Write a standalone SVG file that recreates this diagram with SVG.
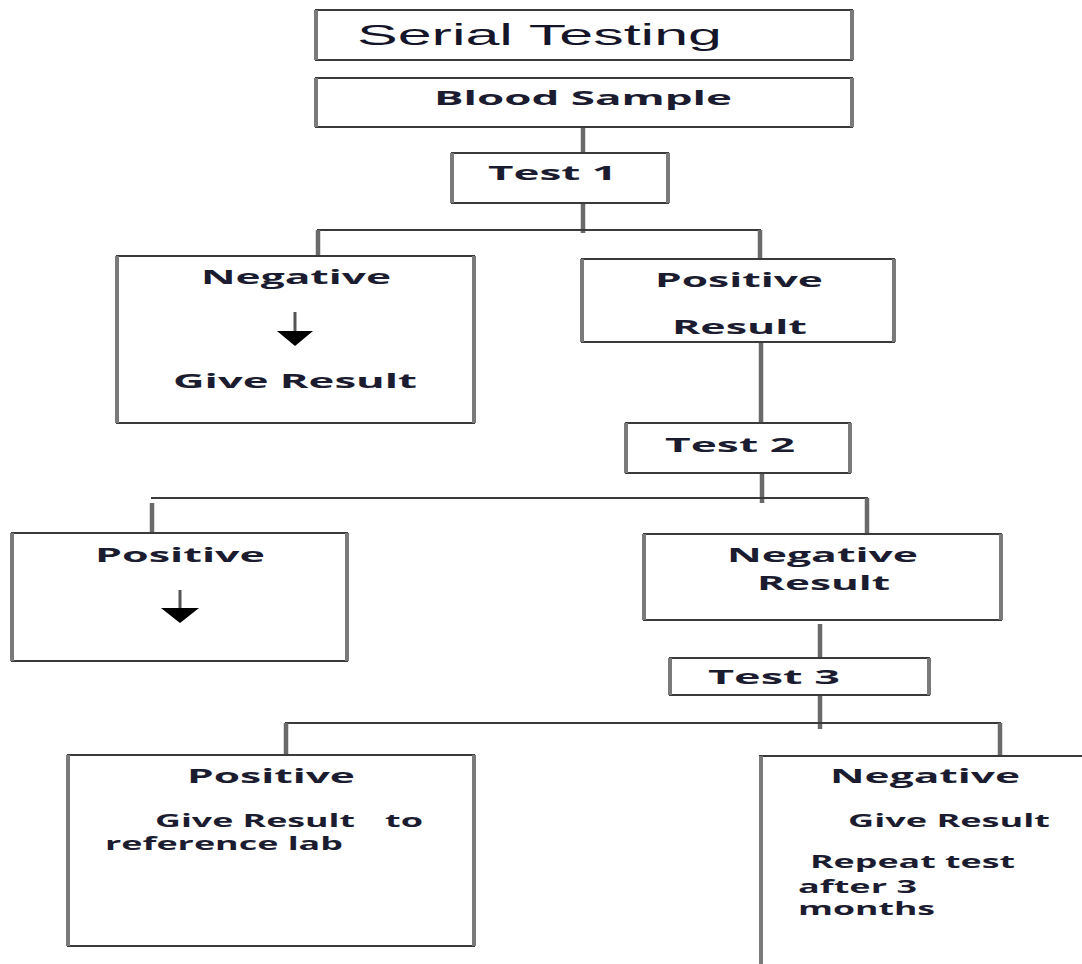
<svg xmlns="http://www.w3.org/2000/svg" width="1082" height="964" viewBox="0 0 1082 964">
  <style>
    .box { fill: #ffffff; stroke: #3a3a3a; stroke-width: 2; }
    .side { stroke: #7a7a7a; stroke-width: 4; fill: none; }
    .stem { stroke: #6a6a6a; stroke-width: 4.5; fill: none; }
    .bar { stroke: #3a3a3a; stroke-width: 2; fill: none; }
    .lbl { font-family: "Open Sans", "Liberation Sans", sans-serif; font-weight: 700; fill: #1c1c30; }
    .big { font-size: 20px; }
    .sm { font-size: 18px; }
    .title { font-family: "Liberation Sans", Arial, sans-serif; font-size: 29px; fill: #15152a; }
    .shaft { stroke: #555555; stroke-width: 3; }
    .head { fill: #000000; }
  </style>
  <rect width="1082" height="964" fill="#ffffff"/>

  <g id="connectors">
    <line class="stem" x1="583" y1="127" x2="583" y2="153"/>
    <line class="stem" x1="583" y1="203" x2="583" y2="233"/>
    <line class="bar" x1="317" y1="230" x2="761" y2="230"/>
    <line class="stem" x1="318" y1="230" x2="318" y2="256"/>
    <line class="stem" x1="760" y1="230" x2="760" y2="259"/>
    <line class="stem" x1="761" y1="338" x2="761" y2="423"/>
    <line class="stem" x1="762" y1="473" x2="762" y2="503"/>
    <line class="bar" x1="151" y1="498" x2="868" y2="498"/>
    <line class="stem" x1="152" y1="503" x2="152" y2="533"/>
    <line class="stem" x1="867" y1="498" x2="867" y2="534"/>
    <line class="stem" x1="820" y1="624" x2="820" y2="658"/>
    <line class="stem" x1="820" y1="695" x2="820" y2="729"/>
    <line class="bar" x1="285" y1="723" x2="1001" y2="723"/>
    <line class="stem" x1="286" y1="723" x2="286" y2="755"/>
    <line class="stem" x1="1000" y1="723" x2="1000" y2="756"/>
  </g>

  <g id="serial-testing">
    <rect class="box" x="316" y="10" width="536" height="50"/>
    <path class="side" d="M316 10V60M852 10V60"/>
    <text class="title" x="357" y="45" textLength="365" lengthAdjust="spacingAndGlyphs">Serial Testing</text>
  </g>

  <g id="blood-sample">
    <rect class="box" x="316" y="78" width="536" height="49"/>
    <path class="side" d="M316 78V127M852 78V127"/>
    <text class="lbl big" x="434" y="105" textLength="298" lengthAdjust="spacingAndGlyphs">Blood Sample</text>
  </g>

  <g id="test-1">
    <rect class="box" x="452" y="153" width="216" height="50"/>
    <path class="side" d="M452 153V203M668 153V203"/>
    <text class="lbl big" x="488" y="180" textLength="129" lengthAdjust="spacingAndGlyphs">Test 1</text>
  </g>

  <g id="negative-1">
    <rect class="box" x="117" y="256" width="357" height="167"/>
    <path class="side" d="M117 256V423M474 256V423"/>
    <text class="lbl big" x="201" y="284" textLength="190" lengthAdjust="spacingAndGlyphs">Negative</text>
    <line class="shaft" x1="295" y1="312" x2="295" y2="333"/>
    <polygon class="head" points="277,331 313,331 295,346"/>
    <text class="lbl big" x="173" y="388" textLength="244" lengthAdjust="spacingAndGlyphs">Give Result</text>
  </g>

  <g id="positive-result-1">
    <rect class="box" x="582" y="259" width="312" height="83"/>
    <path class="side" d="M582 259V342M894 259V342"/>
    <text class="lbl big" x="655" y="287" textLength="168" lengthAdjust="spacingAndGlyphs">Positive</text>
    <text class="lbl big" x="672" y="334" textLength="135" lengthAdjust="spacingAndGlyphs">Result</text>
  </g>

  <g id="test-2">
    <rect class="box" x="626" y="423" width="224" height="50"/>
    <path class="side" d="M626 423V473M850 423V473"/>
    <text class="lbl big" x="665" y="452" textLength="130" lengthAdjust="spacingAndGlyphs">Test 2</text>
  </g>

  <g id="positive-2">
    <rect class="box" x="12" y="533" width="335" height="128"/>
    <path class="side" d="M12 533V661M347 533V661"/>
    <text class="lbl big" x="95" y="562" textLength="170" lengthAdjust="spacingAndGlyphs">Positive</text>
    <line class="shaft" x1="180" y1="590" x2="180" y2="610"/>
    <polygon class="head" points="161,608 199,608 180,623"/>
  </g>

  <g id="negative-result-2">
    <rect class="box" x="644" y="534" width="357" height="86"/>
    <path class="side" d="M644 534V620M1001 534V620"/>
    <text class="lbl big" x="727" y="562" textLength="191" lengthAdjust="spacingAndGlyphs">Negative</text>
    <text class="lbl big" x="757" y="590" textLength="133" lengthAdjust="spacingAndGlyphs">Result</text>
  </g>

  <g id="test-3">
    <rect class="box" x="670" y="658" width="259" height="37"/>
    <path class="side" d="M670 658V695M929 658V695"/>
    <text class="lbl big" x="708" y="684" textLength="132" lengthAdjust="spacingAndGlyphs">Test 3</text>
  </g>

  <g id="positive-3">
    <rect class="box" x="68" y="755" width="406" height="191"/>
    <path class="side" d="M68 755V946M474 755V946"/>
    <text class="lbl big" x="187" y="783" textLength="168" lengthAdjust="spacingAndGlyphs">Positive</text>
    <text class="lbl sm" y="827"><tspan x="155" textLength="200" lengthAdjust="spacingAndGlyphs">Give Result</tspan><tspan x="385" textLength="38" lengthAdjust="spacingAndGlyphs">to</tspan></text>
    <text class="lbl sm" x="105" y="850" textLength="238" lengthAdjust="spacingAndGlyphs">reference lab</text>
  </g>

  <g id="negative-3">
    <rect class="box" x="760" y="756" width="340" height="230"/>
    <path class="side" d="M761 756V964"/>
    <text class="lbl big" x="830" y="783" textLength="190" lengthAdjust="spacingAndGlyphs">Negative</text>
    <text class="lbl sm" x="848" y="827" textLength="202" lengthAdjust="spacingAndGlyphs">Give Result</text>
    <text class="lbl sm" x="810" y="868" textLength="205" lengthAdjust="spacingAndGlyphs">Repeat test</text>
    <text class="lbl sm" x="798" y="893" textLength="119" lengthAdjust="spacingAndGlyphs">after 3</text>
    <text class="lbl sm" x="798" y="915" textLength="137" lengthAdjust="spacingAndGlyphs">months</text>
  </g>
</svg>
